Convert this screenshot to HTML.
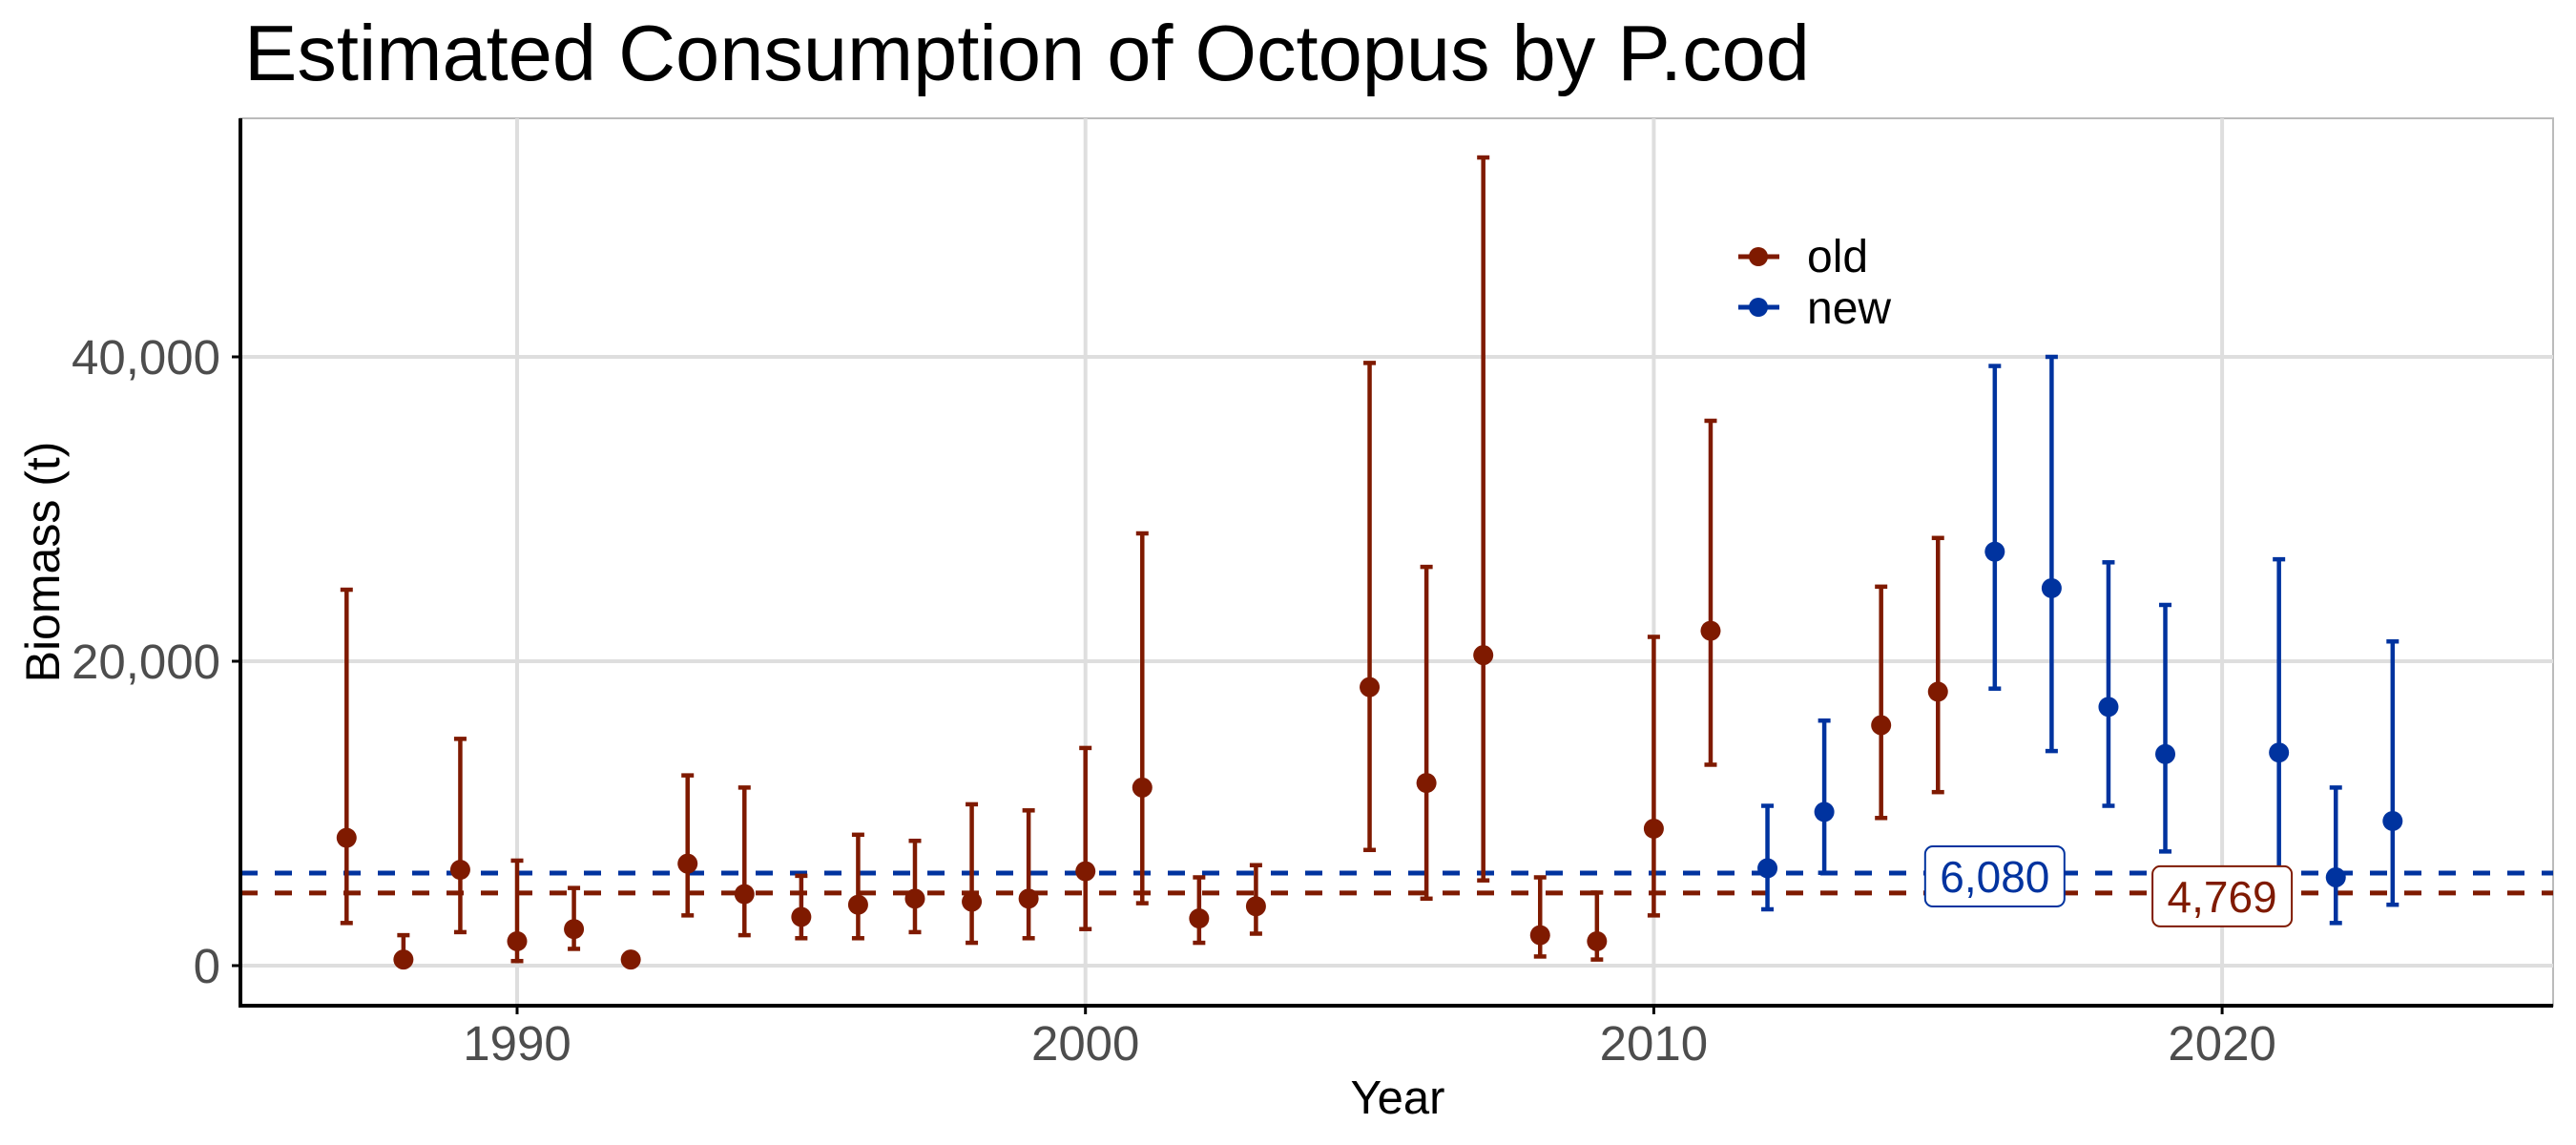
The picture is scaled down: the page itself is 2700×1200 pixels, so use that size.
<!DOCTYPE html>
<html><head><meta charset="utf-8"><style>
html,body{margin:0;padding:0;background:#fff}
svg{display:block;font-family:"Liberation Sans",Arial,sans-serif}
</style></head><body>
<svg id="chart" width="2700" height="1200" viewBox="0 0 2700 1200" xmlns="http://www.w3.org/2000/svg">
<text x="256" y="84" font-size="83" fill="#000">Estimated Consumption of Octopus by P.cod</text>
<g id="grid"></g>
<g id="hlines"></g>
<g id="marks"></g>
<g id="axes"></g>
<text transform="translate(62,589) rotate(-90)" text-anchor="middle" font-size="50" fill="#000">Biomass (t)</text>
<text x="1465" y="1167" text-anchor="middle" font-size="49" fill="#000">Year</text>
<g>
<g>
<line x1="1822" y1="269" x2="1865" y2="269" stroke="#7f1a00" stroke-width="5"/>
<circle cx="1843" cy="269" r="10" fill="#7f1a00"/>
<text x="1894" y="285" font-size="48" fill="#000">old</text></g>
<g>
<line x1="1822" y1="322" x2="1865" y2="322" stroke="#00339f" stroke-width="5"/>
<circle cx="1843" cy="322" r="10" fill="#00339f"/>
<text x="1894" y="339" font-size="48" fill="#000">new</text></g>
</g>
</svg>
<script>
const oldYears=[1987,1988,1989,1990,1991,1992,1993,1994,1995,1996,1997,1998,1999,2000,2001,2002,2003,2005,2006,2007,2008,2009,2010,2011,2014,2015];
const oldMid=[8400,400,6300,1600,2400,400,6700,4700,3200,4000,4400,4200,4400,6200,11700,3100,3900,18300,12000,20400,2000,1600,9000,22000,15800,18000];
const oldLo=[2800,200,2200,300,1100,300,3300,2000,1800,1800,2200,1500,1800,2400,4100,1500,2100,7600,4400,5600,600,400,3300,13200,9700,11400];
const oldHi=[24700,2000,14900,6900,5100,500,12500,11700,5900,8600,8200,10600,10200,14300,28400,5800,6600,39600,26200,53100,5800,4800,21600,35800,24900,28100];
const newYears=[2012,2013,2016,2017,2018,2019,2021,2022,2023];
const newMid=[6400,10100,27200,24800,17000,13900,14000,5800,9500];
const newLo=[3700,6100,18200,14100,10500,7500,6200,2800,4000];
const newHi=[10500,16100,39400,40000,26500,23700,26700,11700,21300];
const yTicks=[0,20000,40000];
const yTickLabels=["0","20,000","40,000"];
const xTicks=[1990,2000,2010,2020];
const refValues=[6080,4769];
const refLabels=["6,080","4,769"];
const refLabelYears=[2016,2020];

const NS="http://www.w3.org/2000/svg";
const L=252,R=2676,T=124,B=1054;
function x(yr){return 542+(yr-1990)*59.57;}
function y(v){return 1012-v*0.01595;}
function mk(tag,attrs,parent){const e=document.createElementNS(NS,tag);for(const k in attrs)e.setAttribute(k,attrs[k]);parent.appendChild(e);return e;}
const grid=document.getElementById('grid'),axes=document.getElementById('axes'),marks=document.getElementById('marks'),hl=document.getElementById('hlines');
mk('rect',{x:L,y:T,width:R-L,height:B-T,fill:'none',stroke:'#bbbbbb','stroke-width':2},grid);
yTicks.forEach((v,i)=>{
 const g=mk('line',{x1:L,x2:R,y1:y(v),y2:y(v),stroke:'#dedede','stroke-width':4},grid);
 
 
 const t=mk('text',{x:231,y:y(v)+18,'text-anchor':'end','font-size':51,fill:'#4d4d4d'},axes);
 t.textContent=yTickLabels[i];
 
 
 mk('line',{x1:L-9,x2:L,y1:y(v),y2:y(v),stroke:'#000','stroke-width':3},axes);
});
xTicks.forEach(yr=>{
 const g=mk('line',{x1:x(yr),x2:x(yr),y1:T,y2:B,stroke:'#dedede','stroke-width':4},grid);
 
 
 const t=mk('text',{x:x(yr),y:1111,'text-anchor':'middle','font-size':51,fill:'#4d4d4d'},axes);
 t.textContent=String(yr);
 
 
 mk('line',{x1:x(yr),x2:x(yr),y1:B,y2:B+9,stroke:'#000','stroke-width':3},axes);
});
mk('line',{x1:L,x2:L,y1:T,y2:B+2,stroke:'#000','stroke-width':4},axes);
mk('line',{x1:L-2,x2:R,y1:B,y2:B,stroke:'#000','stroke-width':4},axes);
const refColors=['#00339f','#7f1a00'];
refValues.forEach((v,i)=>{
 const l=mk('line',{x1:L,x2:R,y1:y(v),y2:y(v),stroke:refColors[i],'stroke-width':5,'stroke-dasharray':'18 18'},hl);
 
 
});
function series(yrs,mid,lo,hi,col,name){
 yrs.forEach((yr,i)=>{
  const g=mk('g',{},marks);
  
  
  const cx=x(yr);
  mk('line',{x1:cx,x2:cx,y1:y(lo[i]),y2:y(hi[i]),stroke:col,'stroke-width':4.5},g);
  mk('line',{x1:cx-6.5,x2:cx+6.5,y1:y(lo[i]),y2:y(lo[i]),stroke:col,'stroke-width':4.5},g);
  mk('line',{x1:cx-6.5,x2:cx+6.5,y1:y(hi[i]),y2:y(hi[i]),stroke:col,'stroke-width':4.5},g);
  mk('circle',{cx:cx,cy:y(mid[i]),r:10.5,fill:col},g);
 });
}
series(oldYears,oldMid,oldLo,oldHi,'#7f1a00','old');
series(newYears,newMid,newLo,newHi,'#00339f','new');
refValues.forEach((v,i)=>{
 const g=mk('g',{},marks);
 
 
 const cx=x(refLabelYears[i]),cy=y(v)+4;
 mk('rect',{x:cx-73,y:cy-32,width:146,height:63,rx:8,fill:'#fff',stroke:refColors[i],'stroke-width':2},g);
 const t=mk('text',{x:cx,y:cy+16,'text-anchor':'middle','font-size':46,fill:refColors[i]},g);
 t.textContent=refLabels[i];
});
</script>
</body></html>
